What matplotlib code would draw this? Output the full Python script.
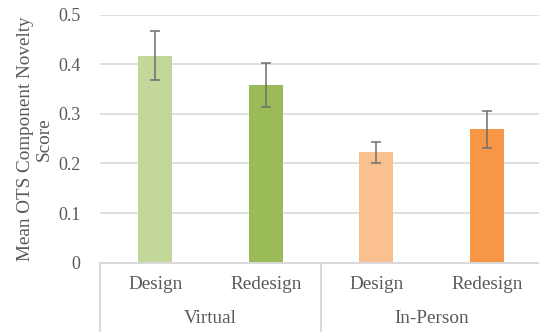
import matplotlib
matplotlib.use("Agg")
import matplotlib.pyplot as plt
from matplotlib.lines import Line2D

plt.rcParams['font.family'] = ['Liberation Serif', 'DejaVu Serif']

conditions = ["Virtual", "In-Person"]
phases = ["Design", "Redesign"]
means = [0.418, 0.359, 0.223, 0.269]
errors = [0.049, 0.044, 0.021, 0.037]
colors = ["#C4D79B", "#9BBB59", "#FAC090", "#F79646"]
yticks = [0, 0.1, 0.2, 0.3, 0.4, 0.5]

W, H = 539, 332
fig = plt.figure(figsize=(W / 100, H / 100), dpi=100)
left, right, top, bottom = 100, 542, 15, 262.5
ax = fig.add_axes([left / W, (H - bottom) / H, (right - left) / W, (bottom - top) / H])

text_color = "#595959"
grid_color = "#D9D9D9"

x = list(range(len(means)))
ax.bar(x, means, width=0.31, color=colors, zorder=2)
ax.errorbar(x, means, yerr=errors, fmt="none", ecolor="#6E6E6E",
            elinewidth=1.1, capsize=3.5, capthick=1.1, zorder=3)

ax.set_xlim(-0.5, len(means) - 0.5)
ax.set_ylim(0, 0.5)
ax.set_yticks(yticks)
ax.set_yticklabels([f"{t:g}" for t in yticks], fontsize=13, color=text_color)
ax.tick_params(axis="y", length=0, pad=14)
ax.tick_params(axis="x", length=0, labelbottom=False)
ax.yaxis.grid(True, color=grid_color, linewidth=1.2, zorder=0)
ax.set_axisbelow(True)
for s in ["top", "right", "left"]:
    ax.spines[s].set_visible(False)
ax.spines["bottom"].set_color(grid_color)
ax.spines["bottom"].set_linewidth(1.4)

ax.set_ylabel("Mean OTS Component Novelty\nScore", fontsize=13.8,
              color=text_color, linespacing=1.1, labelpad=4)

# two-level category axis below the plot
trans = ax.get_xaxis_transform()
for i in x:
    ax.text(i, -0.09, phases[i % 2], transform=trans, ha="center",
            va="center", fontsize=13.8, color=text_color)
for g, name in enumerate(conditions):
    ax.text(2 * g + 0.5, -0.225, name, transform=trans, ha="center",
            va="center", fontsize=13.8, color=text_color)
for xb in [-0.5, 1.5, 3.5]:
    ax.add_line(Line2D([xb, xb], [0, -0.3], transform=trans, color=grid_color,
                       linewidth=1.4, clip_on=False))

fig.savefig("out.png", dpi=100, facecolor="white")
